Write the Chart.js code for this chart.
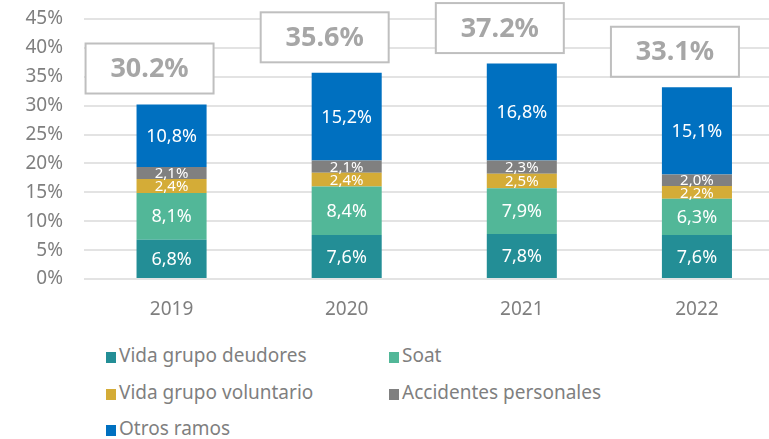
<!DOCTYPE html>
<html>
<head>
<meta charset="utf-8">
<script src="https://cdn.jsdelivr.net/npm/chart.js@4.4.1/dist/chart.umd.min.js"></script>
<style>
  body { margin: 0; overflow: hidden; background: #fff; font-family: 'Noto Sans', sans-serif; }
  #wrap { position: relative; width: 800px; height: 329px; }
  .item { position: absolute; height: 24px; line-height: 24px; font-size: 19px; color: #7f7f7f; white-space: nowrap; }
  .item span { display: inline-block; width: 10px; height: 11px; margin-right: 3px; vertical-align: -1px; }
</style>
</head>
<body>
<div id="wrap"><canvas id="myChart" width="800" height="329"></canvas></div>
<div id="legend"></div>
<script>
const years = ['2019', '2020', '2021', '2022'];
const vidaDeudores = [6.8, 7.6, 7.8, 7.6];
const soat = [8.1, 8.4, 7.9, 6.3];
const vidaVoluntario = [2.4, 2.4, 2.5, 2.2];
const accidentes = [2.1, 2.1, 2.3, 2.0];
const otrosRamos = [10.8, 15.2, 16.8, 15.1];
const totals = [30.2, 35.6, 37.2, 33.1];

const FONT = "'Noto Sans', sans-serif";

// labels inside each bar segment
const segmentLabels = {
  id: 'segmentLabels',
  afterDatasetsDraw(chart) {
    const ctx = chart.ctx;
    ctx.save();
    ctx.fillStyle = '#fff';
    ctx.textAlign = 'center';
    ctx.textBaseline = 'middle';
    chart.data.datasets.forEach((ds, di) => {
      chart.getDatasetMeta(di).data.forEach((bar, i) => {
        const v = ds.data[i];
        ctx.font = (v < 3 ? '15px ' : '18px ') + FONT;
        ctx.fillText(v.toFixed(1).replace('.', ',') + '%', bar.x, (bar.y + bar.base) / 2 + 1);
      });
    });
    ctx.restore();
  }
};

// boxed totals above the bars
const totalBoxes = {
  id: 'totalBoxes',
  afterDraw(chart) {
    const ctx = chart.ctx;
    const xs = chart.scales.x, ys = chart.scales.y;
    ctx.save();
    totals.forEach((t, i) => {
      const cx = xs.getPixelForValue(i) - 22;
      const cy = ys.getPixelForValue(t) - 36;
      ctx.fillStyle = '#fff';
      ctx.strokeStyle = '#bfbfbf';
      ctx.lineWidth = 2;
      ctx.fillRect(cx - 64, cy - 25, 128, 50);
      ctx.strokeRect(cx - 64, cy - 25, 128, 50);
      ctx.fillStyle = '#a6a6a6';
      ctx.font = 'bold 27px ' + FONT;
      ctx.textAlign = 'center';
      ctx.textBaseline = 'middle';
      ctx.fillText(t.toFixed(1) + '%', cx, cy + 1);
    });
    ctx.restore();
  }
};

const chart = new Chart(document.getElementById('myChart'), {
  type: 'bar',
  data: {
    labels: years,
    datasets: [
      { label: 'Vida grupo deudores', data: vidaDeudores, backgroundColor: '#238E96' },
      { label: 'Soat', data: soat, backgroundColor: '#52B798' },
      { label: 'Vida grupo voluntario', data: vidaVoluntario, backgroundColor: '#D4AC37' },
      { label: 'Accidentes personales', data: accidentes, backgroundColor: '#808080' },
      { label: 'Otros ramos', data: otrosRamos, backgroundColor: '#0070C0' }
    ]
  },
  options: {
    responsive: false,
    animation: false,
    layout: { padding: { top: 19, right: 15.5, left: 0, bottom: 0 } },
    datasets: { bar: { barPercentage: 0.4, categoryPercentage: 1 } },
    plugins: { legend: { display: false }, tooltip: { enabled: false } },
    scales: {
      x: {
        stacked: true,
        grid: { display: false, drawTicks: false },
        border: { display: false },
        ticks: { color: '#7f7f7f', font: { family: FONT, size: 19 }, padding: 19 },
        afterFit: s => { s.height = 50; }
      },
      y: {
        stacked: true,
        min: 0, max: 45,
        grid: { color: '#e3e3e3', lineWidth: 2, drawTicks: false },
        border: { display: false },
        ticks: { stepSize: 5, color: '#7f7f7f', font: { family: FONT, size: 19 }, padding: 21,
                 callback: v => v + '%' },
        afterFit: s => { s.width = 84; s.paddingTop = 0; s.paddingBottom = 0; }
      }
    }
  },
  plugins: [segmentLabels, totalBoxes]
});

// legend in two columns, built from the datasets
const legend = document.getElementById('legend');
chart.data.datasets.forEach((ds, i) => {
  const d = document.createElement('div');
  d.className = 'item';
  d.style.left = (i % 2 ? 389 : 106) + 'px';
  d.style.top = (343 + Math.floor(i / 2) * 36.5) + 'px';
  d.innerHTML = '<span style="background:' + ds.backgroundColor + '"></span>' + ds.label;
  legend.appendChild(d);
});
</script>
</body>
</html>
